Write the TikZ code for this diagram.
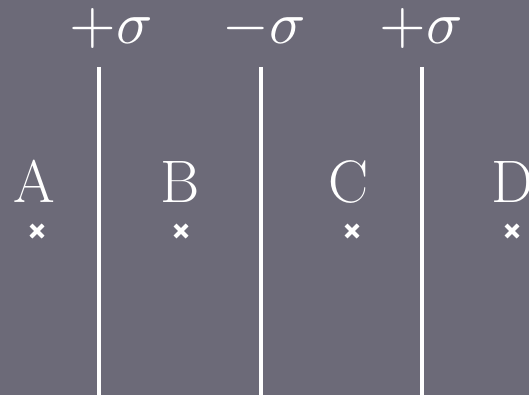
\documentclass[tikz,border=0pt]{standalone}
\begin{document}
\begin{tikzpicture}[x=1pt,y=-1pt,
  wall/.style={draw=white,line width=4.5pt},
  lbl/.style={text=white,inner sep=0pt,font=\fontsize{60}{60}\selectfont},
  mlbl/.style={text=white,inner sep=0pt,font=\fontsize{10}{12}\selectfont},
  xmark/.style={draw=white,line width=4pt}]
\definecolor{bgc}{RGB}{108,106,120}
\fill[bgc] (0,0) rectangle (529,395);
\useasboundingbox (0,0) rectangle (529,395);
% walls
\coordinate (w1t) at (99,67); \coordinate (w1b) at (99,395);
\coordinate (w2t) at (261,67); \coordinate (w2b) at (261,395);
\coordinate (w3t) at (422,67); \coordinate (w3b) at (422,395);
\draw[wall] (w1t) -- (w1b);
\draw[wall] (w2t) -- (w2b);
\draw[wall] (w3t) -- (w3b);
% charge labels
\node[mlbl,anchor=base] (s1) at (111,44) {\scalebox{6}{$+\sigma$}};
\node[mlbl,anchor=base] (s2) at (264,44) {\scalebox{6}{$-\sigma$}};
\node[mlbl,anchor=base] (s3) at (421,44) {\scalebox{6}{$+\sigma$}};
% region labels
\node[lbl,anchor=base] (A) at (34,202) {A};
\node[lbl,anchor=base] (B) at (180,202) {B};
\node[lbl,anchor=base] (C) at (349,202) {C};
\node[lbl,anchor=base] (D) at (513,202) {D};
% marks
\foreach \n/\x in {mA/37,mB/181,mC/352,mD/512}{
  \coordinate (\n) at (\x,231);
  \draw[xmark] ([shift={(-6,-6)}]\n) -- ([shift={(6,6)}]\n);
  \draw[xmark] ([shift={(-6,6)}]\n) -- ([shift={(6,-6)}]\n);
}
\end{tikzpicture}
\end{document}
